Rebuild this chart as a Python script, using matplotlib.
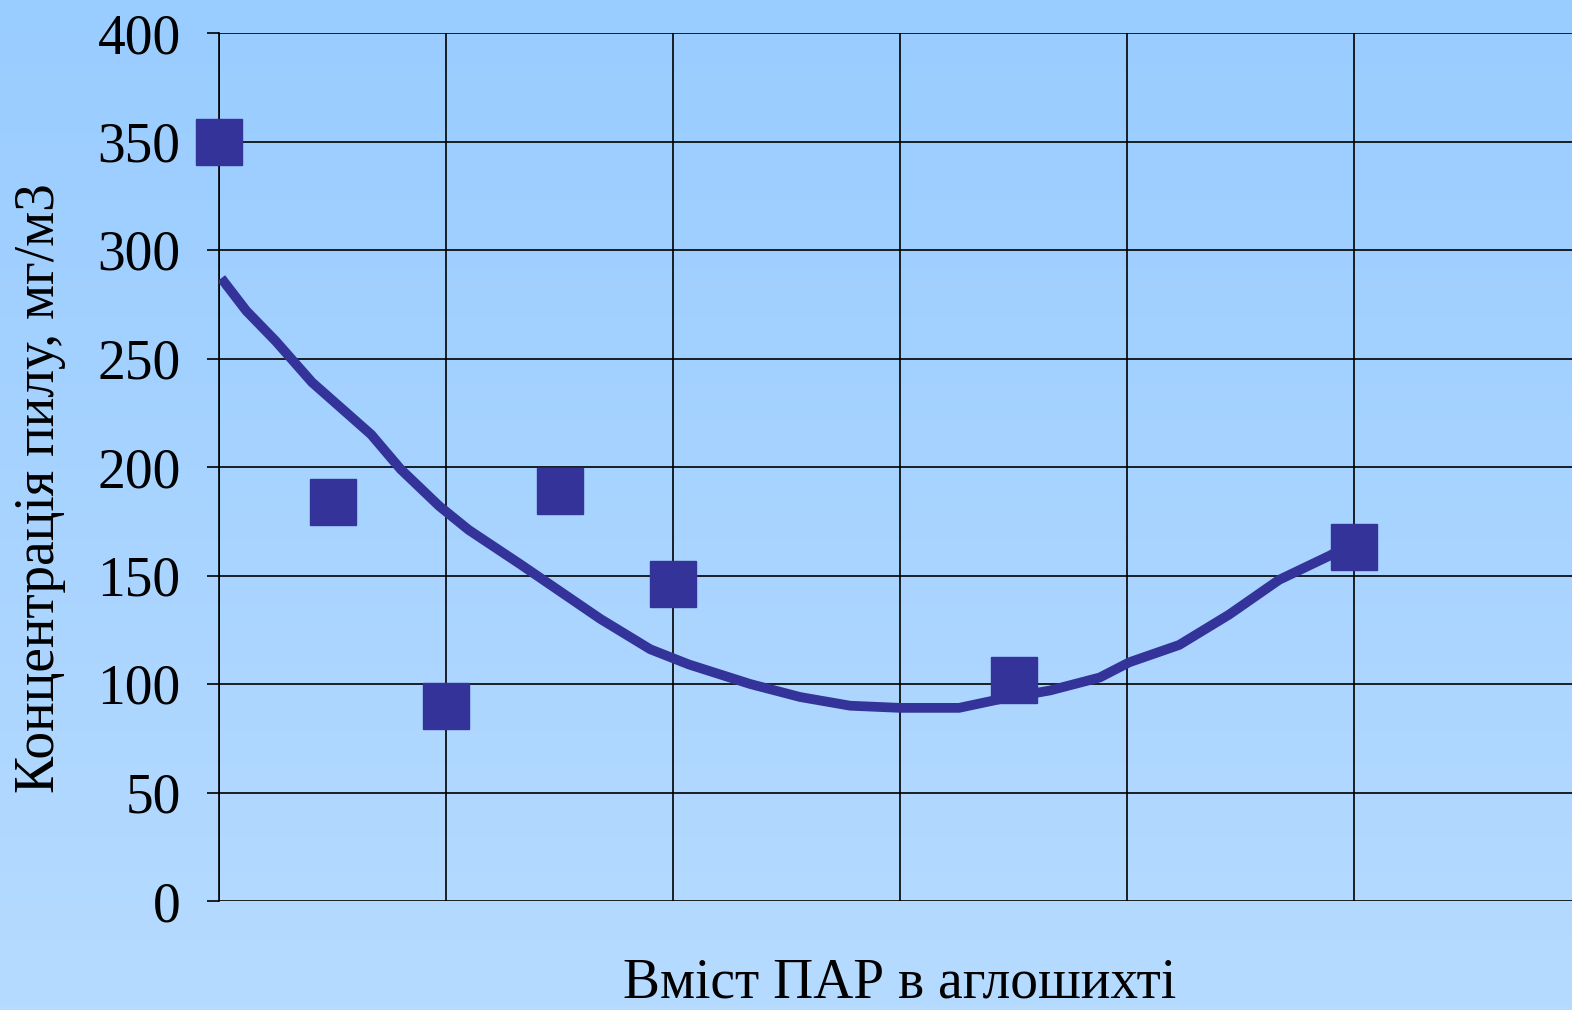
import matplotlib.pyplot as plt
import numpy as np

# Дані з графіка
x_pts = [0, 0.5, 1, 1.5, 2, 3.5, 5]
y_pts = [350, 184, 90, 189, 146, 102, 163]

# Лінія тренду
x_trend = [0.01, 0.12, 0.25, 0.41, 0.67, 0.8, 0.97, 1.1, 1.33, 1.68, 1.9, 2.07,
           2.34, 2.56, 2.78, 3.0, 3.26, 3.44, 3.66, 3.88, 4.01, 4.23, 4.45, 4.67,
           4.89, 4.98]
y_trend = [287, 272, 258, 239, 215, 199, 182, 171, 155, 130, 116, 109,
           100, 94, 90, 89, 89, 93, 97, 103, 110, 118, 132, 148,
           159, 164]

y_ticks = [0, 50, 100, 150, 200, 250, 300, 350, 400]

plt.rcParams['font.family'] = ['Liberation Serif', 'DejaVu Serif']

fig = plt.figure(figsize=(15.72, 10.10), dpi=100)

# градієнтний фон
bg = fig.add_axes([0, 0, 1, 1], zorder=-10)
grad = np.linspace(0, 1, 256).reshape(-1, 1)
top = np.array([0x99, 0xCC, 0xFF]) / 255
bot = np.array([0xB6, 0xDB, 0xFF]) / 255
img = top + (bot - top) * grad[:, :, None]
bg.imshow(img, aspect='auto', extent=[0, 1, 0, 1])
bg.axis('off')

W, H = 1572, 1010
ax = fig.add_axes([219 / W, (H - 901) / H, 1362 / W, 868 / H])
ax.set_facecolor('none')

ax.plot(x_trend, y_trend, color='#333399', lw=7, solid_capstyle='butt', zorder=3)
ax.plot(x_pts, y_pts, 's', color='#333399', markersize=33, zorder=4, clip_on=False)

ax.set_xlim(0, 6)
ax.set_ylim(0, 400)
ax.set_yticks(y_ticks)
ax.set_xticks(range(7))
ax.set_xticklabels([])
ax.tick_params(axis='x', length=0)
ax.tick_params(axis='y', length=8.6, width=1.2, labelsize=40, pad=19)
ax.grid(True, color='black', lw=1.2)
for s in ['top', 'right', 'bottom']:
    ax.spines[s].set_visible(False)
ax.spines['left'].set_linewidth(1.2)

fig.text(40 / W, 1 - 488 / H, 'Концентрація пилу, мг/м3', rotation=90,
         ha='center', va='center', fontsize=40)
fig.text(900 / W, 1 - 984 / H, 'Вміст ПАР в аглошихті',
         ha='center', va='center', fontsize=40)

fig.savefig('out.png', dpi=100)
